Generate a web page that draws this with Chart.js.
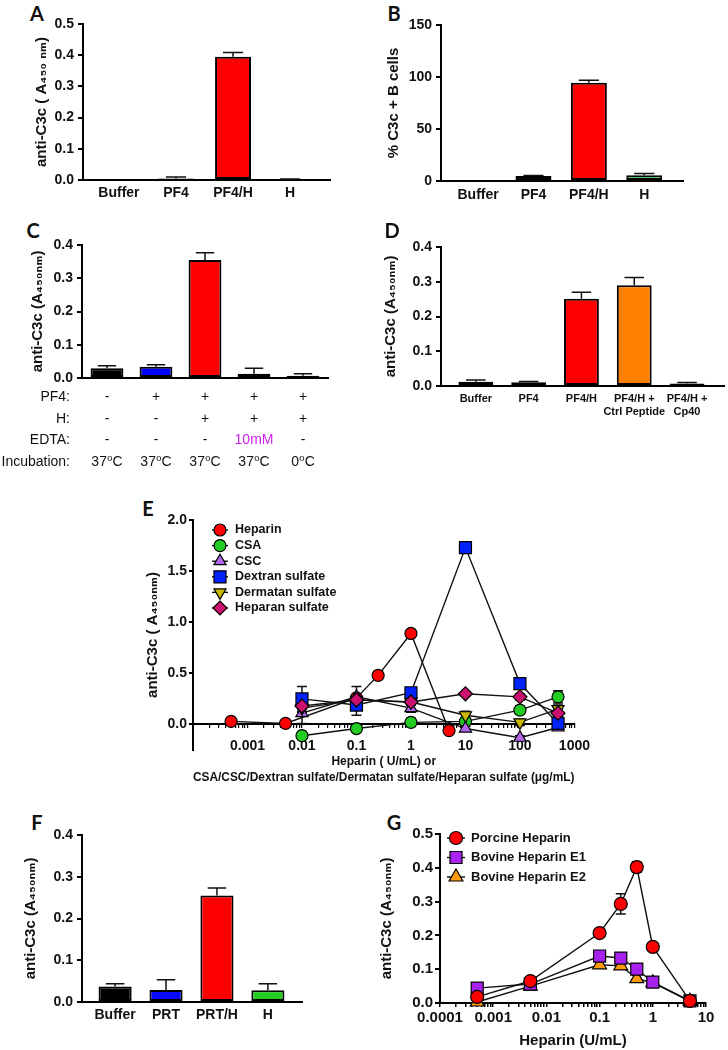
<!DOCTYPE html>
<html>
<head>
<meta charset="utf-8">
<script src="https://cdn.jsdelivr.net/npm/chart.js@4.4.1/dist/chart.umd.min.js"></script>
<style>
  body { margin: 0; background: #fff; }
  #page { position: relative; width: 728px; height: 1050px; overflow: hidden; background: #fff; }
  .panel { position: absolute; }
  .letter { position: absolute; font: bold 20px Lato, "Liberation Sans", sans-serif; color: #111; transform: translate(-50%, -50%); }
</style>
</head>
<body>
<div id="page"></div>
<script>
// ---- A
const aLabels = ['Buffer', 'PF4', 'PF4/H', 'H'];
const aValues = [0, 0.005, 0.395, 0.002];
const aErrors = [0, 0.005, 0.014, 0.001];

// ---- B
const bLabels = ['Buffer', 'PF4', 'PF4/H', 'H'];
const bValues = [0, 4.8, 94.5, 5.6];
const bErrors = [0, 0.6, 2.3, 1.5];

// ---- C
const cValues = [0.029, 0.034, 0.355, 0.013, 0.007];
const cErrors = [0.008, 0.006, 0.022, 0.016, 0.006];
const cRowLabels = ['PF4:', 'H:', 'EDTA:', 'Incubation:'];
const cPF4 = ['-', '+', '+', '+', '+'];
const cH = ['-', '-', '+', '+', '+'];
const cEDTA = ['-', '-', '-', '10mM', '-'];
const cTemp = ['37⁰C', '37⁰C', '37⁰C', '37⁰C', '0⁰C'];

// ---- D
const dLabels = ['Buffer', 'PF4', 'PF4/H', ['PF4/H +', 'Ctrl Peptide'], ['PF4/H +', 'Cp40']];
const dValues = [0.012, 0.011, 0.251, 0.29, 0.007];
const dErrors = [0.005, 0.002, 0.019, 0.022, 0.003];

// ---- E
const eHepConc = [0.0005, 0.005, 0.1, 0.25, 1, 5];
const eHeparin = [0.03, 0.01, 0.26, 0.48, 0.89, -0.06];
const eHeparinErr = [0.01, 0.01, 0.03, 0.04, 0.02, 0.02];
const eConc = [0.01, 0.1, 1, 10, 100, 500];
const eCSA = [-0.11, -0.04, 0.02, 0.03, 0.14, 0.27];
const eCSAErr = [0.01, 0.01, 0.04, 0.03, 0.04, 0.06];
const eCSC = [0.11, 0.27, 0.16, -0.04, -0.13, -0.03];
const eCSCErr = [0.1, 0.1, 0.04, 0.02, 0.02, 0.02];
const eDextran = [0.25, 0.19, 0.31, 1.73, 0.40, 0.01];
const eDextranErr = [0.12, 0.1, 0.03, 0.02, 0.03, 0.02];
const eDermatan = [0.16, 0.24, 0.22, 0.09, 0.02, 0.15];
const eDermatanErr = [0.04, 0.03, 0.03, 0.04, 0.03, 0.04];
const eHeparan = [0.18, 0.24, 0.22, 0.30, 0.27, 0.11];
const eHeparanErr = [0.03, 0.03, 0.03, 0.02, 0.03, 0.03];
const eYTicks = [0, 0.5, 1, 1.5, 2];
const eXTitle = ['Heparin ( U/mL) or', 'CSA/CSC/Dextran sulfate/Dermatan sulfate/Heparan sulfate (μg/mL)'];

// ---- F
const fLabels = ['Buffer', 'PRT', 'PRT/H', 'H'];
const fValues = [0.037, 0.029, 0.255, 0.028];
const fErrors = [0.007, 0.024, 0.018, 0.016];

// ---- G
const gConc = [0.0005, 0.005, 0.1, 0.25, 0.5, 1, 5];
const gPorcine = [0.018, 0.065, 0.207, 0.293, 0.402, 0.166, 0.006];
const gPorcineErr = [0.004, 0.004, 0.006, 0.03, 0.015, 0.005, 0.003];
const gBovineE1 = [0.044, 0.056, 0.139, 0.133, 0.10, 0.062, 0.006];
const gBovineE2 = [0.003, 0.05, 0.113, 0.11, 0.072, 0.06, 0.005];

Chart.defaults.font.family = '"Liberation Sans", Arial, "DejaVu Sans", sans-serif';
Chart.defaults.color = '#111';

const page = document.getElementById('page');

function makeCanvas(box) {
  const div = document.createElement('div');
  div.className = 'panel';
  Object.assign(div.style, { left: box.x + 'px', top: box.y + 'px', width: box.w + 'px', height: box.h + 'px' });
  const c = document.createElement('canvas');
  c.width = box.w; c.height = box.h;
  div.appendChild(c);
  page.appendChild(div);
  return c;
}

function letter(t, x, y) {
  const d = document.createElement('div');
  d.className = 'letter';
  d.textContent = t;
  d.style.left = x + 'px'; d.style.top = y + 'px';
  page.appendChild(d);
}

// chart area placement: area is in page pixels
function frame(box, area, titleX, xH, floatingX) {
  const lh = 15 * 1.2;
  const padLeft = titleX - box.x - lh / 2;
  return {
    padding: {
      left: padLeft,
      top: area.T - box.y,
      right: box.x + box.w - area.R,
      bottom: box.y + box.h - area.B - (floatingX ? 0 : xH)
    },
    yW: area.L - box.x - padLeft,
    xH
  };
}

const errorBars = {
  id: 'errorBars',
  beforeDatasetsDraw(chart) {
    const ctx = chart.ctx, ys = chart.scales.y;
    chart.data.datasets.forEach((ds, d) => {
      if (!ds.errors) return;
      const meta = chart.getDatasetMeta(d);
      meta.data.forEach((el, i) => {
        const e = ds.errors[i];
        if (!e) return;
        const v = meta.controller.getParsed(i).y;
        const top = ys.getPixelForValue(v + e);
        const bot = ys.getPixelForValue(v - e);
        const isBar = meta.type === 'bar';
        const half = isBar ? el.width * 0.28 : 5;
        ctx.save();
        ctx.strokeStyle = '#111';
        ctx.lineWidth = 1.5;
        ctx.beginPath();
        ctx.moveTo(el.x, isBar ? el.y : bot);
        ctx.lineTo(el.x, top);
        ctx.moveTo(el.x - half, top); ctx.lineTo(el.x + half, top);
        if (!isBar) { ctx.moveTo(el.x - half, bot); ctx.lineTo(el.x + half, bot); }
        ctx.stroke();
        ctx.restore();
      });
    });
  }
};

const condTable = {
  id: 'condTable',
  afterDraw(chart, args, o) {
    if (!o.rows) return;
    const ctx = chart.ctx, xs = chart.scales.x, base = chart.chartArea.bottom;
    ctx.save();
    ctx.font = o.font;
    ctx.textBaseline = 'middle';
    o.rows.forEach((row, r) => {
      const y = base + o.firstRow + r * o.rowGap;
      ctx.fillStyle = '#111';
      ctx.textAlign = 'right';
      ctx.fillText(o.heads[r], o.headRight, y);
      ctx.textAlign = 'center';
      row.forEach((cell, i) => {
        const hi = o.highlight && o.highlight.row === r && o.highlight.col === i;
        ctx.fillStyle = hi ? o.highlight.color : '#111';
        ctx.fillText(cell, xs.getPixelForValue(i), y);
      });
    });
    ctx.restore();
  }
};

const insetLegend = {
  id: 'insetLegend',
  afterDatasetsDraw(chart, args, o) {
    if (!o.show) return;
    const ctx = chart.ctx, a = chart.chartArea;
    chart.data.datasets.forEach((ds, i) => {
      const cx = a.left + o.dx, cy = a.top + o.dy + i * o.gap;
      ctx.save();
      ctx.strokeStyle = '#111'; ctx.lineWidth = 1.4;
      ctx.beginPath(); ctx.moveTo(cx - o.line, cy); ctx.lineTo(cx + o.line, cy); ctx.stroke();
      ctx.fillStyle = ds.pointBackgroundColor;
      ctx.strokeStyle = '#000';
      ctx.lineWidth = ds.pointBorderWidth;
      Chart.helpers.drawPoint(ctx, {
        pointStyle: ds.pointStyle, rotation: ds.pointRotation || 0,
        radius: ds.pointRadius, borderWidth: ds.pointBorderWidth
      }, cx, cy);
      ctx.fillStyle = '#111';
      ctx.font = o.font;
      ctx.textAlign = 'left';
      ctx.textBaseline = 'middle';
      ctx.fillText(ds.label, cx + o.textDx, cy);
      ctx.restore();
    });
  }
};

function yAxis(f, cfg) {
  return {
    min: cfg.min, max: cfg.max,
    grid: { display: true, drawOnChartArea: false, drawTicks: true, tickLength: cfg.tickLength || 5, color: '#000', lineWidth: 2 },
    border: { display: true, color: '#000', width: 2 },
    afterFit: s => { s.width = f.yW; },
    afterBuildTicks: cfg.ticks ? (s => { s.ticks = cfg.ticks.map(v => ({ value: v })); }) : undefined,
    ticks: { stepSize: cfg.step, padding: cfg.pad || 4, font: { size: cfg.font || 14, weight: 'bold' }, color: '#111', callback: cfg.fmt },
    title: { display: true, text: cfg.title, font: { size: 15, weight: 'bold' }, color: '#111', padding: 0 }
  };
}

function barChart(box, area, titleX, xH, cfg) {
  const f = frame(box, area, titleX, xH, false);
  return new Chart(makeCanvas(box), {
    type: 'bar',
    data: {
      labels: cfg.labels.map((_, i) => i),
      datasets: [{
        data: cfg.values,
        errors: cfg.errors,
        backgroundColor: cfg.colors,
        borderColor: '#000',
        borderWidth: 2,
        borderSkipped: false,
        barPercentage: cfg.barPct,
        categoryPercentage: 1
      }]
    },
    options: {
      responsive: false,
      animation: false,
      layout: { padding: f.padding },
      plugins: { legend: { display: false }, tooltip: { enabled: false }, condTable: cfg.table || {} },
      scales: {
        x: {
          type: 'linear', min: cfg.xMin, max: cfg.xMax, offset: false,
          grid: { display: false, drawTicks: false, offset: false },
          border: { display: true, color: '#000', width: 2 },
          afterBuildTicks: s => { s.ticks = cfg.labels.map((_, i) => ({ value: i })); },
          afterFit: s => { s.height = f.xH; },
          ticks: {
            display: cfg.showX !== false, autoSkip: false, maxRotation: 0, minRotation: 0,
            padding: cfg.xPad, font: { size: cfg.xFont || 14, weight: 'bold' }, color: '#111',
            callback: v => cfg.labels[v]
          }
        },
        y: yAxis(f, { min: 0, max: cfg.yMax, step: cfg.yStep, fmt: cfg.yFmt, title: cfg.yTitle })
      }
    },
    plugins: [errorBars, condTable]
  });
}

const fmt1 = v => Number(v).toFixed(1);

function logTicks(e0, e1) {
  const t = [];
  for (let e = e0; e < e1; e++) {
    for (let k = 1; k <= 9; k++) t.push({ value: +(k * Math.pow(10, e)).toPrecision(6) });
  }
  t.push({ value: Math.pow(10, e1) });
  return t;
}

function logLabel(v, minLabel) {
  const l = Math.log10(v);
  if (Math.abs(l - Math.round(l)) > 1e-6 || v < minLabel * 0.999) return '';
  const e = Math.round(l);
  return e < 0 ? v.toFixed(-e) : String(Math.round(v));
}

function series(label, xs, ys, errs, color, style, radius, rot, order) {
  return {
    label,
    data: xs.map((x, i) => ({ x, y: ys[i] })),
    errors: errs,
    borderColor: '#111',
    borderWidth: 1.4,
    pointStyle: style,
    pointRadius: radius,
    pointRotation: rot || 0,
    pointBackgroundColor: color,
    pointBorderColor: '#000',
    pointBorderWidth: 1.2,
    tension: 0,
    fill: false,
    clip: false,
    order: order || 0
  };
}

// ---------- A
letter('A', 37, 13);
barChart({ x: 0, y: 0, w: 364, h: 215 }, { L: 83, T: 24, R: 330, B: 180 }, 42, 26, {
  labels: aLabels, values: aValues, errors: aErrors,
  colors: ['#111', '#1515c0', '#ff0000', '#22cc22'],
  barPct: 0.63, xMin: -0.63, xMax: 3.70, xPad: 5,
  yMax: 0.5, yStep: 0.1, yFmt: fmt1, yTitle: 'anti-C3c ( A₄₅₀ ₙₘ)'
});

// ---------- B
letter('B', 394, 13);
barChart({ x: 364, y: 0, w: 364, h: 215 }, { L: 441, T: 25, R: 683, B: 181 }, 394, 26, {
  labels: bLabels, values: bValues, errors: bErrors,
  colors: ['#111', '#1a1aa0', '#ff0000', '#33cc33'],
  barPct: 0.65, xMin: -0.67, xMax: 3.70, xPad: 6,
  yMax: 150, yStep: 50, yFmt: v => String(v), yTitle: '% C3c + B cells'
});

// ---------- C
letter('C', 33, 230);
barChart({ x: 0, y: 200, w: 364, h: 280 }, { L: 82, T: 245, R: 328, B: 378 }, 38, 10, {
  labels: cPF4, values: cValues, errors: cErrors, showX: false,
  colors: ['#000', '#0000ff', '#ff0000', '#cc33ff', '#8b5a2b'],
  barPct: 0.67, xMin: -0.51, xMax: 4.51, xPad: 4,
  yMax: 0.4, yStep: 0.1, yFmt: fmt1, yTitle: 'anti-C3c (A₄₅₀ₙₘ)',
  table: {
    rows: [cPF4, cH, cEDTA, cTemp], heads: cRowLabels,
    font: '14px "Liberation Sans", Arial, "DejaVu Sans", sans-serif',
    firstRow: 19, rowGap: 21.7, headRight: 70,
    highlight: { row: 2, col: 3, color: '#cc22ee' }
  }
});

// ---------- D
letter('D', 392, 230);
barChart({ x: 364, y: 200, w: 364, h: 240 }, { L: 441, T: 247, R: 724, B: 386 }, 391, 36, {
  labels: dLabels, values: dValues, errors: dErrors,
  colors: ['#000', '#1a1aa0', '#ff0000', '#ff8000', '#000'],
  barPct: 0.66, xMin: -0.66, xMax: 4.70, xPad: 6, xFont: 11,
  yMax: 0.4, yStep: 0.1, yFmt: fmt1, yTitle: 'anti-C3c (A₄₅₀ₙₘ)'
});

// ---------- E
letter('E', 148, 508);
(function () {
  const box = { x: 120, y: 470, w: 480, h: 340 };
  const f = frame(box, { L: 193, T: 520, R: 578, B: 750 }, 153, 61, true);
  new Chart(makeCanvas(box), {
    type: 'line',
    data: {
      datasets: [
        series('Heparin', eHepConc, eHeparin, eHeparinErr, '#ff0000', 'circle', 6, 0, 6),
        series('CSA', eConc, eCSA, eCSAErr, '#22cc22', 'circle', 6, 0, 5),
        series('CSC', eConc, eCSC, eCSCErr, '#b366ee', 'triangle', 7, 0, 4),
        series('Dextran sulfate', eConc, eDextran, eDextranErr, '#0022ff', 'rect', 8.5, 0, 3),
        series('Dermatan sulfate', eConc, eDermatan, eDermatanErr, '#c8b800', 'triangle', 7, 180, 2),
        series('Heparan sulfate', eConc, eHeparan, eHeparanErr, '#cc1070', 'rectRot', 7, 0, 1)
      ]
    },
    options: {
      responsive: false,
      animation: false,
      layout: { padding: f.padding },
      plugins: {
        legend: { display: false }, tooltip: { enabled: false },
        insetLegend: { show: true, dx: 27, dy: 10, gap: 15.6, line: 8, textDx: 15,
          font: 'bold 12.5px "Liberation Sans", Arial, sans-serif' }
      },
      scales: {
        x: {
          type: 'logarithmic', min: 1e-4, max: 1000, position: { y: 0 },
          grid: { display: true, drawOnChartArea: false, drawTicks: true, tickLength: 3, color: '#000', lineWidth: 1.2 },
          border: { display: true, color: '#000', width: 2 },
          afterBuildTicks: s => { s.ticks = logTicks(-4, 3); },
          afterFit: s => { s.height = f.xH; },
          ticks: { autoSkip: false, maxRotation: 0, minRotation: 0, padding: 10, font: { size: 14, weight: 'bold' }, color: '#111',
            callback: v => logLabel(v, 1e-3) },
          title: { display: true, text: eXTitle, font: { size: 12, weight: 'bold', lineHeight: 16 / 12 }, color: '#111', padding: 0 }
        },
        y: yAxis(f, { min: -0.25, max: 2, ticks: eYTicks, fmt: fmt1, title: 'anti-C3c ( A₄₅₀ₙₘ)', tickLength: 4, pad: 2 })
      }
    },
    plugins: [errorBars, insetLegend]
  });
})();

// ---------- F
letter('F', 37, 822);
barChart({ x: 0, y: 810, w: 364, h: 240 }, { L: 82, T: 835, R: 302, B: 1002 }, 31, 26, {
  labels: fLabels, values: fValues, errors: fErrors,
  colors: ['#000', '#0a0aff', '#ff0000', '#22cc22'],
  barPct: 0.65, xMin: -0.65, xMax: 3.67, xPad: 5,
  yMax: 0.4, yStep: 0.1, yFmt: fmt1, yTitle: 'anti-C3c (A₄₅₀ₙₘ)'
});

// ---------- G
letter('G', 394, 822);
(function () {
  const box = { x: 364, y: 810, w: 364, h: 240 };
  const f = frame(box, { L: 440, T: 834, R: 706, B: 1003 }, 387, 47, false);
  new Chart(makeCanvas(box), {
    type: 'line',
    data: {
      datasets: [
        series('Porcine Heparin', gConc, gPorcine, gPorcineErr, '#ff0000', 'circle', 6.5),
        series('Bovine Heparin E1', gConc, gBovineE1, null, '#a722ee', 'rect', 8.5),
        series('Bovine Heparin E2', gConc, gBovineE2, null, '#ff9a10', 'triangle', 8)
      ]
    },
    options: {
      responsive: false,
      animation: false,
      layout: { padding: f.padding },
      plugins: {
        legend: { display: false }, tooltip: { enabled: false },
        insetLegend: { show: true, dx: 16, dy: 4, gap: 19.5, line: 9, textDx: 15,
          font: 'bold 13px "Liberation Sans", Arial, sans-serif' }
      },
      scales: {
        x: {
          type: 'logarithmic', min: 1e-4, max: 10,
          grid: { display: true, drawOnChartArea: false, drawTicks: true, tickLength: 4, color: '#000', lineWidth: 1.5 },
          border: { display: true, color: '#000', width: 2 },
          afterBuildTicks: s => { s.ticks = logTicks(-4, 1); },
          afterFit: s => { s.height = f.xH; },
          ticks: { autoSkip: false, maxRotation: 0, minRotation: 0, padding: 2, font: { size: 15, weight: 'bold' }, color: '#111',
            callback: v => logLabel(v, 1e-4) },
          title: { display: true, text: 'Heparin (U/mL)', font: { size: 15, weight: 'bold' }, color: '#111', padding: 0 }
        },
        y: yAxis(f, { min: 0, max: 0.5, step: 0.1, fmt: fmt1, title: 'anti-C3c (A₄₅₀ₙₘ)', font: 15, pad: 2 })
      }
    },
    plugins: [errorBars, insetLegend]
  });
})();
</script>
</body>
</html>
